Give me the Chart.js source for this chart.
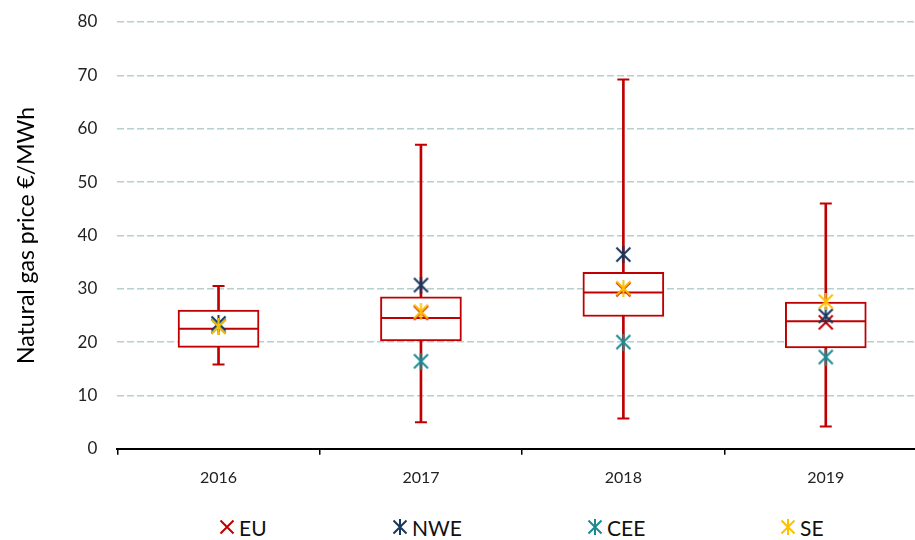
<!DOCTYPE html>
<html><head><meta charset="utf-8">
<script src="https://cdn.jsdelivr.net/npm/chart.js@4/dist/chart.umd.min.js"></script>
<style>
html,body{margin:0;padding:0;width:915px;height:540px;overflow:hidden;background:#fff;font-family:Lato,"Open Sans",sans-serif}
#c{position:absolute;left:0;top:0}
#legend{position:absolute;top:514px;left:0;width:915px;height:26px}
.item{position:absolute;top:0;height:26px;display:flex;align-items:center;font-size:21px;color:#111}
.item canvas{margin-right:4px}
</style></head><body>
<canvas id="c" width="927" height="502"></canvas>
<div id="legend"></div>
<script>
const years = ['2016', '2017', '2018', '2019'];
const whiskerMin = [15.8, 5.0, 5.7, 4.2];
const boxQ1 = [19.0, 20.2, 24.8, 18.9];
const boxMedian = [22.5, 24.5, 29.3, 23.9];
const boxQ3 = [26.0, 28.5, 33.1, 27.5];
const whiskerMax = [30.5, 57.0, 69.2, 46.0];
const euAvg = [23.0, 25.5, 29.9, 23.7];
const nweAvg = [23.5, 30.7, 36.4, 24.9];
const ceeAvg = [23.0, 16.4, 20.0, 17.2];
const seAvg = [22.9, 25.7, 30.1, 27.6];
const legendNames = ['EU', 'NWE', 'CEE', 'SE'];
const yTickValues = [0, 10, 20, 30, 40, 50, 60, 70, 80];

const RED = '#C00000', NAVY = '#17375E', TEAL = '#1B8A92', GOLD = '#FFC000';

function makeMarker(color, star, size) {
  const c = document.createElement('canvas');
  c.width = size; c.height = size;
  const g = c.getContext('2d');
  g.strokeStyle = color; g.lineWidth = 2; g.lineCap = 'butt';
  const p = 1.5;
  g.beginPath();
  g.moveTo(p, p); g.lineTo(size - p, size - p);
  g.moveTo(size - p, p); g.lineTo(p, size - p);
  if (star) { g.moveTo(size / 2, 0); g.lineTo(size / 2, size); }
  g.stroke();
  return c;
}
const markers = [makeMarker(RED, false, 17), makeMarker(NAVY, true, 17), makeMarker(TEAL, true, 17), makeMarker(GOLD, true, 17)];

const pairs = (a, b) => a.map((v, i) => [v, b[i]]);

function pointSet(label, data, style, order) {
  return { type: 'line', label, data, showLine: false, pointStyle: style, pointRadius: 8,
    pointHoverRadius: 8, borderColor: 'rgba(0,0,0,0)', backgroundColor: 'rgba(0,0,0,0)', order };
}
function capSet(label, data, radius, order) {
  return { type: 'line', label, data, showLine: false, pointStyle: 'line', pointRadius: radius,
    pointHoverRadius: radius, borderColor: RED, pointBorderColor: RED, pointBorderWidth: 2, borderWidth: 2, order };
}

new Chart(document.getElementById('c'), {
  type: 'bar',
  data: {
    labels: years,
    datasets: [
      { label: 'whisker', data: pairs(whiskerMin, whiskerMax), backgroundColor: RED, barThickness: 2, grouped: false, order: 8 },
      { label: 'box', data: pairs(boxQ1, boxQ3), backgroundColor: '#FFFFFF', borderColor: RED, borderWidth: 2,
        borderSkipped: false, barThickness: 81, grouped: false, order: 7 },
      capSet('min', whiskerMin, 6, 6),
      capSet('max', whiskerMax, 6, 6),
      capSet('median', boxMedian, 40, 5),
      pointSet(legendNames[0], euAvg, markers[0], 4),
      pointSet(legendNames[1], nweAvg, markers[1], 3),
      pointSet(legendNames[2], ceeAvg, markers[2], 2),
      pointSet(legendNames[3], seAvg, markers[3], 1)
    ]
  },
  options: {
    responsive: false, animation: false,
    layout: { autoPadding: false, padding: { left: 13, top: 22, right: 0, bottom: 2 } },
    plugins: { legend: { display: false }, tooltip: { enabled: false } },
    scales: {
      x: {
        offset: true,
        grid: { display: true, drawOnChartArea: false, drawTicks: true, tickLength: 6, color: '#000', lineWidth: 1.5, offset: true },
        border: { display: true, color: '#000', width: 2 },
        ticks: { color: '#222', font: { family: 'Lato', size: 16 }, padding: 13 }
      },
      y: {
        min: 0, max: 80,
        afterBuildTicks: (s) => { s.ticks = yTickValues.map(v => ({ value: v })); },
        grid: { color: '#B8CFCF', lineWidth: 1.5, drawTicks: true, tickLength: 18, tickColor: 'rgba(0,0,0,0)' },
        border: { display: false, dash: [7, 3] },
        ticks: { color: '#222', font: { family: 'Lato', size: 17 }, padding: 2 },
        title: { display: true, text: 'Natural gas price €/MWh', color: '#000',
          font: { family: 'Lato', size: 23 }, padding: { top: 0, bottom: 35 } }
      }
    }
  }
});

const legendX = [219, 392, 587, 780];
const lg = document.getElementById('legend');
legendNames.forEach((name, i) => {
  const d = document.createElement('div');
  d.className = 'item'; d.style.left = legendX[i] + 'px';
  const m = makeMarker([RED, NAVY, TEAL, GOLD][i], i > 0, 16);
  d.appendChild(m);
  const s = document.createElement('span'); s.textContent = name; d.appendChild(s);
  lg.appendChild(d);
});
</script>
</body></html>
